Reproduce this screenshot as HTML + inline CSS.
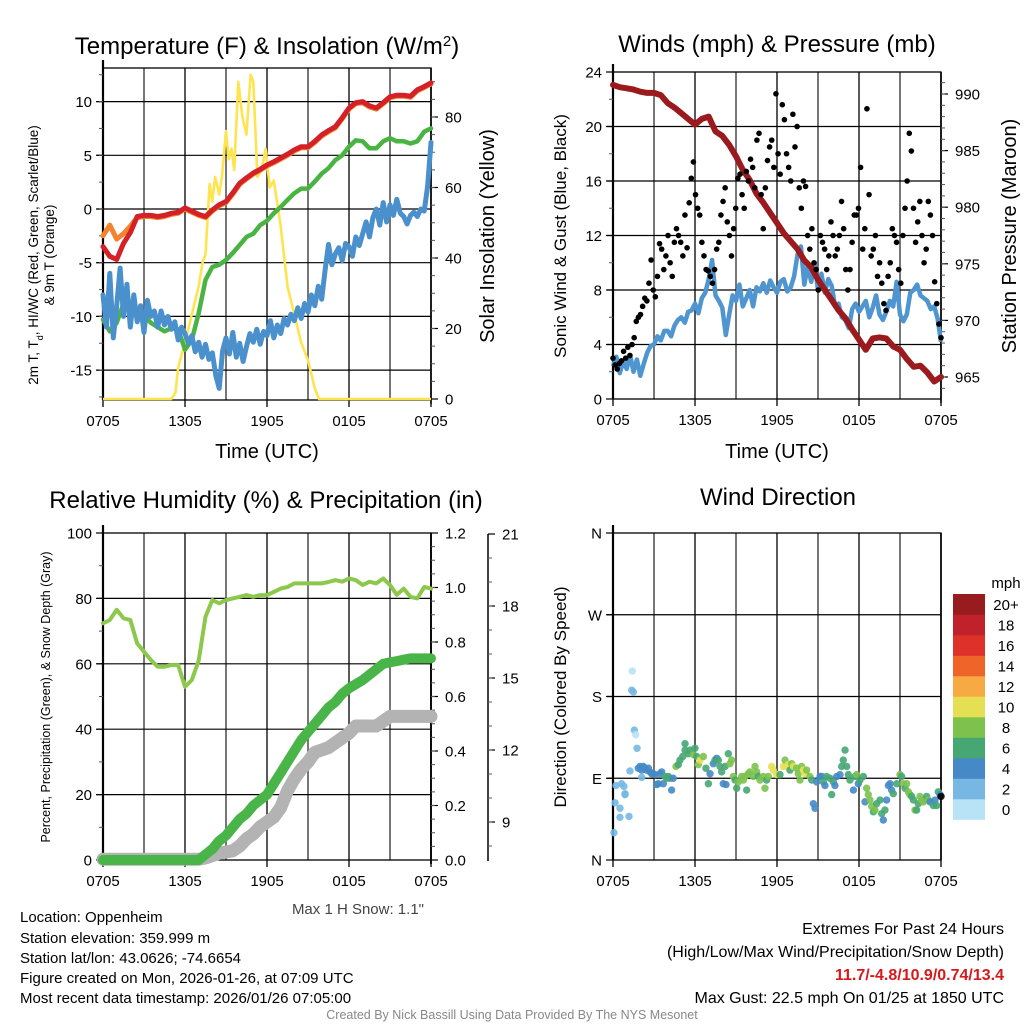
<!DOCTYPE html>
<html><head><meta charset="utf-8"><style>
html,body{margin:0;padding:0;background:#fff}
svg{display:block;font-family:"Liberation Sans",sans-serif}
</style></head><body>
<svg id="fig" width="1024" height="1024" viewBox="0 0 1024 1024" xmlns="http://www.w3.org/2000/svg">
<rect width="1024" height="1024" fill="#fff"/>
<g id="p1"></g>
<g id="p2"></g>
<g id="p3"></g>
<g id="p4"></g>
<g font-size="24" text-anchor="middle" fill="#000">
<text x="267" y="54">Temperature (F) &amp; Insolation (W/m<tspan baseline-shift="super" font-size="15">2</tspan>)</text>
<text x="777" y="52">Winds (mph) &amp; Pressure (mb)</text>
<text x="266" y="508">Relative Humidity (%) &amp; Precipitation (in)</text>
<text x="778" y="505">Wind Direction</text>
</g>
<g font-size="20" text-anchor="middle">
<text x="267" y="458">Time (UTC)</text>
<text x="777" y="458">Time (UTC)</text>
<text transform="translate(494,236) rotate(-90)">Solar Insolation (Yellow)</text>
<text transform="translate(1016,236) rotate(-90)">Station Pressure (Maroon)</text>
<text font-size="17" transform="translate(566,236) rotate(-90)">Sonic Wind &amp; Gust (Blue, Black)</text>
<text font-size="17" transform="translate(566,697) rotate(-90)">Direction (Colored By Speed)</text>
<text font-size="13.5" transform="translate(38,255) rotate(-90)">2m T, T<tspan baseline-shift="sub" font-size="9">d</tspan>, HI/WC (Red, Green, Scarlet/Blue)</text>
<text font-size="13.5" transform="translate(54,255) rotate(-90)">&amp; 9m T (Orange)</text>
<text font-size="12.5" transform="translate(50,697) rotate(-90)">Percent, Precipitation (Green), &amp; Snow Depth (Gray)</text>
</g>
<text x="424" y="914" font-size="15" fill="#444" text-anchor="end">Max 1 H Snow: 1.1"</text>
<g font-size="15" fill="#000">
<text x="20" y="922">Location: Oppenheim</text>
<text x="20" y="943">Station elevation: 359.999 m</text>
<text x="20" y="963">Station lat/lon: 43.0626; -74.6654</text>
<text x="20" y="983">Figure created on Mon, 2026-01-26, at 07:09 UTC</text>
<text x="20" y="1003">Most recent data timestamp: 2026/01/26 07:05:00</text>
</g>
<g font-size="16" text-anchor="end">
<text x="1004" y="934">Extremes For Past 24 Hours</text>
<text x="1004" y="957">(High/Low/Max Wind/Precipitation/Snow Depth)</text>
<text x="1004" y="980" fill="#d7191c" font-weight="bold">11.7/-4.8/10.9/0.74/13.4</text>
<text x="1004" y="1003">Max Gust: 22.5 mph On 01/25 at 1850 UTC</text>
</g>
<text x="512" y="1019" font-size="12.5" fill="#888" text-anchor="middle">Created By Nick Bassill Using Data Provided By The NYS Mesonet</text>
</svg>
<script>
// ---------- data ----------
const timeTicks = ["0705","1305","1905","0105","0705"];
// half-hourly (0..24h, 49 points)
const temp2m = [-3.5,-4.4,-4.7,-3.2,-2.2,-0.7,-0.6,-0.6,-0.7,-0.6,-0.4,-0.3,0.1,-0.2,-0.5,-0.7,-0.1,0.4,0.7,1.5,2.4,2.9,3.35,3.7,4.1,4.4,4.75,5.1,5.5,5.8,5.8,6.3,6.9,7.3,7.65,8.5,9.4,9.9,10.0,9.6,9.4,9.9,10.45,10.6,10.6,10.5,11.1,11.4,11.75];
const temp9m = [-2.5,-1.5,-2.8,-2.3,-1.6,-0.8,-0.7,-0.7,-0.8,-0.7,-0.5,-0.4,0.0,-0.3,-0.6,-0.8,-0.2,0.3,0.6,1.4,2.3,2.8,3.25,3.6,4.0,4.3,4.65,5.0,5.4,5.7,5.7,6.2,6.8,7.2,7.55,8.4,9.3,9.8,9.9,9.5,9.3,9.8,10.35,10.5,10.5,10.4,11.0,11.3,11.65];
const dewpt = [-10.3,-11.4,-10.6,-8.8,-9.2,-9.6,-9.9,-10.6,-11.0,-11.4,-11.1,-11.2,-13.1,-12.2,-9.7,-6.6,-5.4,-5.2,-4.75,-4.1,-3.35,-2.6,-2.3,-1.5,-1.1,-0.4,0.2,0.85,1.46,1.9,1.9,2.55,3.3,3.8,4.55,5.0,5.8,6.4,6.3,5.65,5.65,6.3,6.6,6.3,6.3,6.1,6.3,7.2,7.5];
// quarter-hourly wind chill (97 points)
const windChill = [-8,-11,-6,-12,-9,-5.5,-10,-7,-11,-8,-10.5,-9,-11.5,-8.5,-10,-9.5,-11,-9.5,-10.8,-10,-11.2,-10.5,-12.2,-11,-11.6,-12.5,-11.8,-13.3,-12.4,-13.8,-12.6,-14,-13.4,-15.5,-16.7,-13.2,-12,-13.5,-11.5,-13.8,-12.5,-14.2,-12.8,-11.6,-12.4,-11.2,-12.6,-11.4,-11.8,-10.4,-12,-10.8,-11.6,-10.2,-10.8,-9.8,-10.4,-9.2,-10.2,-8.8,-9.6,-8,-9,-7.2,-8.4,-5.7,-3.3,-5.2,-4.2,-3.6,-4.8,-3.2,-3.5,-4.4,-2.6,-3.4,-2.3,-1.2,-2.6,-0.8,0,-1.5,0.6,-1.2,0.4,-0.6,0.9,-0.4,-0.7,-1.4,-0.6,-0.3,-0.7,0,-0.2,2.1,6.2];
// solar insolation (irregular times)
const solarT = [0,5,5.3,5.5,6,6.5,7,7.3,7.5,7.8,8,8.2,8.5,8.7,9,9.2,9.4,9.6,9.9,10.2,10.5,10.8,11,11.3,11.6,11.9,12.2,12.5,13,13.5,14,14.5,15,15.5,15.8,24];
const solarV = [0,0,1.7,9,16,24,32,39,41,61,56,63,58,63,76,68,71,65,90,80,75,92,90,63,65,71,60,62,49,32,24,16,11,3,0,0];
// pressure half-hourly
const pressure = [990.8,990.6,990.5,990.4,990.2,990.1,990.1,989.9,989.2,988.8,988.3,987.8,987.3,987.8,988.0,986.7,986.3,985.5,984.5,983.3,982.4,981.2,980.4,979.5,978.6,977.7,977.0,976.3,975.3,974.7,973.6,972.7,971.8,970.9,970.2,969.2,968.3,967.4,968.4,968.5,968.4,967.7,967.4,966.6,965.9,966.0,965.4,964.6,965.0];
// sonic wind quarter-hourly
const wind = [2.4,3.1,1.9,2.8,2.2,3.2,2.0,2.9,1.7,2.6,3.4,3.9,4.0,4.6,4.3,5.0,5.0,4.6,5.4,5.8,6.0,5.6,6.4,6.5,7.0,6.3,7.4,7.8,8.8,10.2,7.6,7.2,6.7,4.7,6.2,7.6,7.2,8.4,6.8,7.4,8.0,6.8,8.2,7.9,8.5,7.8,8.7,8.2,7.8,8.6,8.8,7.9,8.2,9.0,10.6,11.2,8.4,9.8,8.6,10.0,8.0,9.2,7.8,8.8,8.3,6.8,7.0,6.0,5.8,5.2,6.6,7.0,6.4,6.8,7.2,6.0,6.7,7.6,6.2,5.8,6.4,7.2,6.8,8.6,6.2,5.7,6.2,7.8,8.0,8.4,7.6,7.4,7.2,6.6,6.8,5.9,4.2];
// gusts (evenly spaced over 24h)
const gusts = [3,2.5,2.2,2.6,2.8,3.5,3,3.8,3.2,4,4.5,5.7,6,6.2,6.8,7.4,7.2,8.5,10.2,8,7.5,9,11.4,11,9.5,10.5,12,10,9,11.5,12.5,12,11.5,10.5,13.5,11.1,14.4,16.2,17.4,15,14,13.5,11.5,10.5,9.5,9.4,9,8.5,9.5,11,11.5,13.5,14.5,15.5,13,12,10.5,12.5,14,16.2,16.5,15,14,16.7,16,17.6,17,15.5,19,19.5,15,12.5,15.5,17.5,18.5,19,17,22.4,18,16.5,21.6,20.5,18,17,16,20.9,18.5,20,15.5,14,16,15.6,12,11,12.5,10,9.5,8,12,11.5,11,9.5,10.5,13,12,10.5,11,12,14.5,12.5,9.5,8,9.5,11.5,13.5,13.5,14,17,11,12.5,21.3,15,10.5,11,12,9,10,8.5,7,6.5,9,10,12.5,12,11.5,9.5,8.5,12,14,16,19.5,18.2,14,11.5,13,14.5,12,10,11,14.5,13.5,12,8.6,7,5.5,4.5];
// humidity half-hourly
const rh = [72.4,73.4,76.5,73.9,73.4,66.2,63.7,61.2,59.1,59.1,59.6,59.6,53,55,61,74.4,79.5,78.5,79.5,80,80.5,81,80.5,81,81,82,83,83.5,84.6,84.6,84.6,84.6,84.6,85,85.6,85.1,86.1,85.6,84.1,85.1,84.6,86.1,84.1,81.1,83,80.5,80,83.5,83];
const precip = [0,0,0,0,0,0,0,0,0,0,0,0,0,0,0,0.02,0.04,0.07,0.09,0.12,0.15,0.17,0.2,0.22,0.24,0.28,0.32,0.36,0.4,0.44,0.47,0.5,0.53,0.56,0.58,0.61,0.63,0.645,0.66,0.68,0.7,0.72,0.725,0.73,0.735,0.74,0.74,0.74,0.74];
const snow = [7.45,7.45,7.45,7.45,7.45,7.45,7.45,7.45,7.45,7.45,7.45,7.45,7.45,7.45,7.45,7.5,7.6,7.7,7.75,7.8,8.0,8.3,8.5,8.8,9.0,9.2,9.6,10.3,10.8,11.2,11.5,11.9,12.0,12.1,12.3,12.5,12.7,13.0,13.0,13.0,13.0,13.2,13.4,13.4,13.4,13.4,13.4,13.4,13.4];
// wind direction: hours, degrees, speed (mph)
const dirHours = [0.07,0.15,0.22,0.51,0.51,0.63,0.8,0.88,0.88,1.17,1.24,1.37,1.49,1.41,1.56,1.66,1.76,1.85,1.98,2.1,2.22,2.34,2.46,2.59,2.71,2.83,2.95,3.07,3.2,3.32,3.44,3.56,3.68,3.8,3.93,4.05,4.17,4.29,4.41,2.1,4.61,4.78,4.9,5.1,5.27,5.27,5.51,5.63,5.88,6.0,6.12,6.24,6.37,6.61,6.8,6.98,7.1,7.34,7.46,7.59,7.71,7.83,7.95,8.07,8.2,8.27,8.44,8.56,8.68,8.8,8.93,9.05,9.17,9.41,9.54,9.66,9.78,9.9,10.02,10.27,10.39,10.51,10.63,10.76,11.0,11.12,11.24,11.37,11.61,11.73,11.98,12.22,12.46,12.59,12.71,12.83,12.95,13.07,13.2,13.44,13.56,13.68,13.8,13.93,14.05,14.17,14.41,14.54,14.66,14.78,14.9,15.15,15.27,15.39,15.51,15.63,15.88,16.0,16.12,16.24,16.37,16.61,16.73,16.85,16.98,17.1,17.22,17.34,17.59,17.71,17.83,17.95,18.07,18.32,18.44,18.56,18.68,18.8,18.93,19.05,19.17,19.29,19.54,19.66,19.78,19.9,20.02,20.15,20.27,20.39,20.51,20.76,21.0,21.12,21.24,21.37,21.49,21.61,21.73,21.85,21.98,22.1,22.22,22.34,22.46,22.59,22.71,22.83,22.95,23.07,23.2,23.44,23.56,23.68,23.8,23.93,24.0];
const dirDeg = [30,63,82,57,47,84,81,72,73,48,98,187,185,208,143,138,123,101,103,99,103,101,99,101,97,95,95,94,83,84,95,97,84,92,90,92,90,77,90,91,103,105,110,114,128,121,117,121,116,123,114,105,110,114,101,84,95,106,110,112,110,103,97,84,103,83,117,106,110,92,88,79,86,92,88,92,77,95,97,92,103,97,92,88,92,79,88,92,103,99,94,94,103,110,103,105,99,106,103,101,95,88,103,99,95,99,92,88,62,57,86,92,92,86,82,92,90,72,86,82,92,94,103,110,121,103,94,88,77,92,94,84,88,92,64,79,72,66,59,53,55,62,66,51,44,55,66,82,84,77,73,84,94,92,84,79,84,75,72,70,66,55,55,62,70,66,64,66,70,66,64,60,66,60,75,72,70];
const dirSpeed = [3,3,3,3,3,3,3,3,3,3,3,3,3,1,3,1,3,5,5,5,5,5,5,5,5,5,5,5,5,5,5,5,5,7,7,7,7,5,5,3,9,7,7,7,7,7,7,7,9,7,7,9,11,9,7,7,5,5,7,5,7,7,7,5,7,5,7,9,9,9,7,7,9,9,9,9,7,9,9,9,9,9,7,9,9,9,7,9,11,11,11,7,11,9,11,11,7,9,11,9,9,9,9,11,11,9,9,7,5,5,5,5,5,7,5,7,7,7,7,5,5,5,7,7,7,7,7,7,5,7,9,5,7,7,5,9,9,9,9,7,9,7,7,7,5,7,5,5,5,5,7,7,9,7,9,7,9,9,9,7,7,9,7,7,9,9,9,9,7,9,5,7,5,7,7,5];
const speedLabels = ["0","2","4","6","8","10","12","14","16","18","20+"];
const speedColors = ["#b8e2f6","#76b8e3","#458ac6","#46a773","#7cc24c","#e5e053","#f7a944","#ef6428","#dd3129","#c1212b","#981b1e"];

// ---------- helpers ----------
const NS="http://www.w3.org/2000/svg";
function mk(parent,tag,attrs){const e=document.createElementNS(NS,tag);for(const k in attrs)e.setAttribute(k,attrs[k]);parent.appendChild(e);return e;}
function lin(d0,d1,r0,r1){return v=>r0+(v-d0)*(r1-r0)/(d1-d0);}
function series(n,step){const a=[];for(let i=0;i<n;i++)a.push(i*step);return a;}
function pathD(xs,ys,fx,fy){return xs.map((t,i)=>(i?"L":"M")+fx(t).toFixed(1)+","+fy(ys[i]).toFixed(1)).join("");}

function frame(g,X0,X1,Y0,Y1,gridYs){
  const fx=lin(0,24,X0,X1);
  for(let h=0;h<=24;h+=3){
    const l=mk(g,"line",{x1:fx(h),x2:fx(h),y1:Y0,y2:Y1+(h%6==0?7:0),stroke:h%6==0?"#000":"#555","stroke-width":h%6==0?1.3:1.6});
    
    
  }
  gridYs.forEach(y=>{const l=mk(g,"line",{x1:X0-6,x2:X1,y1:y,y2:y,stroke:"#000","stroke-width":1.2});
    
    });
  const r=mk(g,"rect",{x:X0,y:Y0,width:X1-X0,height:Y1-Y0,fill:"none",stroke:"#000","stroke-width":1.3});
  
  
  mk(g,"line",{x1:X0,x2:X0,y1:Y0-8,y2:Y1,stroke:"#000","stroke-width":2.2});
  timeTicks.forEach((s,i)=>{const t=mk(g,"text",{x:fx(i*6),y:Y1+26,"font-size":15,"text-anchor":"middle"});t.textContent=s;
    
    });
  return fx;
}
function yTicks(g,x,scale,vals,labels,side,minor,fs){
  const dir=side==="L"?-1:1;
  vals.forEach((v,i)=>{mk(g,"line",{x1:x,x2:x+dir*7,y1:scale(v),y2:scale(v),stroke:"#000","stroke-width":1.2});
    const t=mk(g,"text",{x:x+dir*(side==="L"?11:14),y:scale(v)+5.5,"font-size":fs||15,"text-anchor":side==="L"?"end":"start"});
    t.textContent=labels[i];
    
    });
  (minor||[]).forEach(v=>mk(g,"line",{x1:x,x2:x+dir*4,y1:scale(v),y2:scale(v),stroke:"#555","stroke-width":1}));
}
function range(a,b,s){const r=[];for(let v=a;v<=b+1e-9;v+=s)r.push(+v.toFixed(4));return r;}

// ---------- panel 1 ----------
(function(){
  const g=document.getElementById("p1");
  const fyT=lin(0,10,209,101.6), fyS=lin(0,80,399,117);
  const fx=frame(g,103,431,68,400,[10,5,0,-5,-10,-15].map(fyT));
  mk(g,"line",{x1:431,x2:431,y1:68,y2:404,stroke:"#000","stroke-width":1.5});
  yTicks(g,103,fyT,[10,5,0,-5,-10,-15],["10","5","0","-5","-10","-15"],"L",range(-17.5,12.5,2.5));
  yTicks(g,431,fyS,[0,20,40,60,80],["0","20","40","60","80"],"R",range(5,90,5));
  const th=series(49,0.5), tq=series(97,0.25);
  const sol=mk(g,"path",{d:pathD(solarT,solarV,fx,fyS),fill:"none",stroke:"#fee44f","stroke-width":2.6,"stroke-linejoin":"round"});
  
  
  const dp=mk(g,"path",{d:pathD(th,dewpt,fx,fyT),fill:"none",stroke:"#4ab443","stroke-width":4.5,"stroke-linejoin":"round","stroke-linecap":"round"});
  
  
  const wc=mk(g,"path",{d:pathD(tq,windChill,fx,fyT),fill:"none",stroke:"#4a90cc","stroke-width":5,"stroke-linejoin":"round","stroke-linecap":"round"});
  
  
  const t9=mk(g,"path",{d:pathD(th,temp9m,fx,fyT),fill:"none",stroke:"#f4822e","stroke-width":5,"stroke-linejoin":"round","stroke-linecap":"round"});
  
  
  const t2=mk(g,"path",{d:pathD(th,temp2m,fx,fyT),fill:"none",stroke:"#d42027","stroke-width":5,"stroke-linejoin":"round","stroke-linecap":"round"});
  
  
})();

// ---------- panel 2 ----------
(function(){
  const g=document.getElementById("p2");
  const fyW=lin(0,24,399,72), fyP=lin(965,990,377,94);
  const fx=frame(g,613,941,72,399,[4,8,12,16,20].map(fyW));
  mk(g,"line",{x1:941,x2:941,y1:72,y2:403,stroke:"#000","stroke-width":1.5});
  yTicks(g,613,fyW,[0,4,8,12,16,20,24],["0","4","8","12","16","20","24"],"L",range(2,22,4));
  yTicks(g,941,fyP,[965,970,975,980,985,990],["965","970","975","980","985","990"],"R",range(964,991,1));
  const th=series(49,0.5), tq=series(97,0.25);
  const w=mk(g,"path",{d:pathD(tq,wind,fx,fyW),fill:"none",stroke:"#4f95d0","stroke-width":4.5,"stroke-linejoin":"round"});
  
  
  const p=mk(g,"path",{d:pathD(th,pressure,fx,fyP),fill:"none",stroke:"#9b1a1e","stroke-width":6,"stroke-linejoin":"round","stroke-linecap":"round"});
  
  
  const n=gusts.length;
  gusts.forEach((v,i)=>{const c=mk(g,"circle",{cx:fx(i*24/(n-1)),cy:fyW(v),r:2.8,fill:"#000"});
    
    });
})();

// ---------- panel 3 ----------
(function(){
  const g=document.getElementById("p3");
  const fyR=lin(0,100,860,533), fyP=lin(0,1.2,860,533), fyS=lin(9,21,822,534);
  const fx=frame(g,103,431,533,860,[20,40,60,80].map(fyR));
  mk(g,"line",{x1:431,x2:431,y1:533,y2:864,stroke:"#000","stroke-width":1.8});
  yTicks(g,103,fyR,[0,20,40,60,80,100],["0","20","40","60","80","100"],"L",range(10,90,20));
  yTicks(g,431,fyP,[0,0.2,0.4,0.6,0.8,1.0,1.2],["0.0","0.2","0.4","0.6","0.8","1.0","1.2"],"R",range(0.05,1.15,0.05));
  mk(g,"line",{x1:488,x2:488,y1:534,y2:861,stroke:"#000","stroke-width":1.5});
  yTicks(g,488,fyS,[9,12,15,18,21],["9","12","15","18","21"],"R",range(8,20,1));
  const th=series(49,0.5);
  const s=mk(g,"path",{d:pathD(th,snow,fx,fyS),fill:"none",stroke:"#b3b3b3","stroke-width":13,"stroke-linejoin":"round","stroke-linecap":"round"});
  
  
  const p=mk(g,"path",{d:pathD(th,precip,fx,fyP),fill:"none",stroke:"#49b548","stroke-width":10,"stroke-linejoin":"round","stroke-linecap":"round"});
  
  
  const r=mk(g,"path",{d:pathD(th,rh,fx,fyR),fill:"none",stroke:"#8cc84b","stroke-width":4,"stroke-linejoin":"round","stroke-linecap":"round"});
  
  
})();

// ---------- panel 4 ----------
(function(){
  const g=document.getElementById("p4");
  const fy=lin(0,360,860,533);
  const fx=frame(g,613,941,533,860,[90,180,270].map(fy));
  mk(g,"line",{x1:941,x2:941,y1:533,y2:860,stroke:"#000","stroke-width":1.5});
  yTicks(g,613,fy,[0,90,180,270,360],["N","E","S","W","N"],"L",[]);
  dirHours.forEach((h,i)=>{const c=mk(g,"circle",{cx:fx(h),cy:fy(dirDeg[i]),r:3.7,fill:speedColors[Math.min(10,Math.floor(dirSpeed[i]/2))],"fill-opacity":0.9});
    
    });
  const lg=mk(g,"g",{});
  
  
  const t=mk(lg,"text",{x:1006,y:588,"font-size":15,"text-anchor":"middle"});t.textContent="mph";
  for(let i=0;i<11;i++){const top=594+(10-i)*20.5;
    const r=mk(lg,"rect",{x:953,y:top,width:32,height:20.8,fill:speedColors[i]});
    
    
    const l=mk(lg,"text",{x:1006,y:top+16,"font-size":15,"text-anchor":"middle"});l.textContent=speedLabels[i];
    
    }
})();
</script>
</body></html>
